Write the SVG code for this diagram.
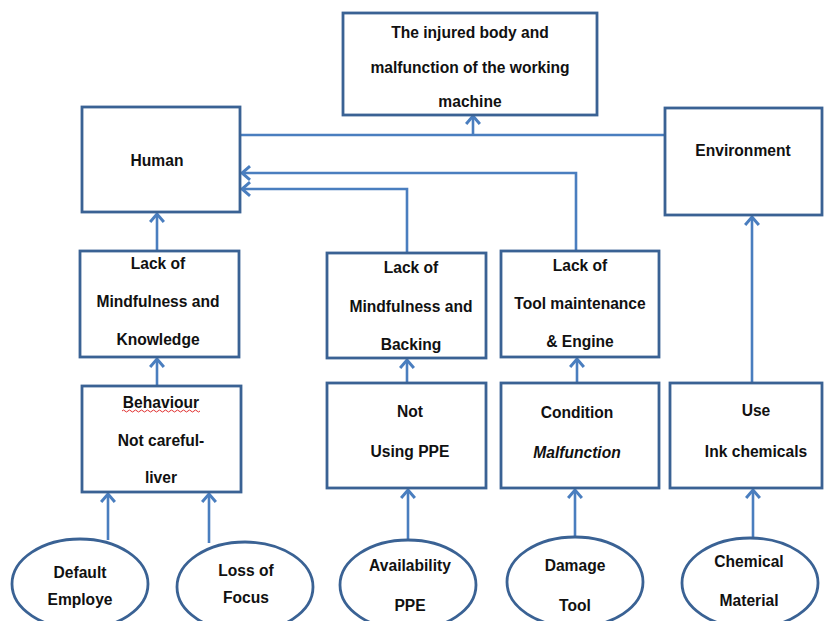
<svg xmlns="http://www.w3.org/2000/svg" width="824" height="621" viewBox="0 0 824 621">
<defs>
<style>
.box{fill:#fff;stroke:#3A6294;stroke-width:2.8}
.t{font-family:"Liberation Sans",Arial,sans-serif;font-size:15.6px;font-weight:bold;fill:#111;text-anchor:middle;dominant-baseline:central}
.c{fill:none;stroke:#4A7EBF;stroke-width:2.6}
</style>
<marker id="ar" markerUnits="userSpaceOnUse" markerWidth="14" markerHeight="16" viewBox="0 0 10 14" refX="8" refY="7" orient="auto" overflow="visible">
<path d="M1,1 L8,7 L1,13" fill="none" stroke="#4A7EBF" stroke-width="2.6"/>
</marker>
</defs>
<rect width="824" height="621" fill="#fff"/>
<g id="connectors">
<path class="c" d="M240,135 H665"/>
<path class="c" d="M473,135 V116" marker-end="url(#ar)"/>
<path class="c" d="M576,251 V173 H242" marker-end="url(#ar)"/>
<path class="c" d="M407,253 V189 H242" marker-end="url(#ar)"/>
<path class="c" d="M157,251 V214" marker-end="url(#ar)"/>
<path class="c" d="M157,386 V359" marker-end="url(#ar)"/>
<path class="c" d="M407,383 V360" marker-end="url(#ar)"/>
<path class="c" d="M577,383 V359" marker-end="url(#ar)"/>
<path class="c" d="M752,383 V217" marker-end="url(#ar)"/>
<path class="c" d="M108,540 V494" marker-end="url(#ar)"/>
<path class="c" d="M209,543 V494" marker-end="url(#ar)"/>
<path class="c" d="M408,540 V490" marker-end="url(#ar)"/>
<path class="c" d="M575,537 V490" marker-end="url(#ar)"/>
<path class="c" d="M753,538 V490" marker-end="url(#ar)"/>
</g>
<g id="top">
<rect class="box" x="343" y="13" width="254" height="102"/>
<text class="t" x="470" y="32">The injured body and</text>
<text class="t" x="470" y="67">malfunction of the working</text>
<text class="t" x="470" y="101">machine</text>
</g>
<g id="human">
<rect class="box" x="82" y="107" width="158" height="105"/>
<text class="t" x="157" y="160">Human</text>
</g>
<g id="environment">
<rect class="box" x="665" y="108" width="157" height="107"/>
<text class="t" x="743" y="150">Environment</text>
</g>
<g id="lack1">
<rect class="box" x="80" y="251" width="159" height="106"/>
<text class="t" x="158" y="263">Lack of</text>
<text class="t" x="158" y="301">Mindfulness and</text>
<text class="t" x="158" y="339">Knowledge</text>
</g>
<g id="lack2">
<rect class="box" x="327" y="253" width="159" height="105"/>
<text class="t" x="411" y="267">Lack of</text>
<text class="t" x="411" y="306">Mindfulness and</text>
<text class="t" x="411" y="344">Backing</text>
</g>
<g id="lack3">
<rect class="box" x="501" y="251" width="158" height="106"/>
<text class="t" x="580" y="265">Lack of</text>
<text class="t" x="580" y="303">Tool maintenance</text>
<text class="t" x="580" y="341">&amp; Engine</text>
</g>
<g id="behaviour">
<rect class="box" x="82" y="386" width="159" height="106"/>
<text class="t" x="161" y="402">Behaviour</text>
<path d="M122,411 q1.5,-2 3,0 t3,0 t3,0 t3,0 t3,0 t3,0 t3,0 t3,0 t3,0 t3,0 t3,0 t3,0 t3,0 t3,0 t3,0 t3,0 t3,0 t3,0 t3,0 t3,0 t3,0 t3,0 t3,0 t3,0 t3,0 t3,0" fill="none" stroke="#E03030" stroke-width="1"/>
<text class="t" x="161" y="440">Not careful-</text>
<text class="t" x="161" y="477">liver</text>
</g>
<g id="notppe">
<rect class="box" x="327" y="383" width="159" height="105"/>
<text class="t" x="410" y="411">Not</text>
<text class="t" x="410" y="451">Using PPE</text>
</g>
<g id="condition">
<rect class="box" x="501" y="383" width="158" height="105"/>
<text class="t" x="577" y="412">Condition</text>
<text class="t" x="577" y="452" font-style="italic">Malfunction</text>
</g>
<g id="use">
<rect class="box" x="670" y="383" width="152" height="105"/>
<text class="t" x="756" y="410">Use</text>
<text class="t" x="756" y="451">Ink chemicals</text>
</g>
<g id="default">
<ellipse class="box" cx="80" cy="584" rx="68" ry="45"/>
<text class="t" x="80" y="572">Default</text>
<text class="t" x="80" y="599">Employe</text>
</g>
<g id="loss">
<ellipse class="box" cx="245" cy="587" rx="68" ry="45"/>
<text class="t" x="246" y="570">Loss of</text>
<text class="t" x="246" y="597">Focus</text>
</g>
<g id="availability">
<ellipse class="box" cx="408" cy="585" rx="68" ry="45"/>
<text class="t" x="410" y="565">Availability</text>
<text class="t" x="410" y="605">PPE</text>
</g>
<g id="damage">
<ellipse class="box" cx="575" cy="582" rx="68" ry="45"/>
<text class="t" x="575" y="565">Damage</text>
<text class="t" x="575" y="605">Tool</text>
</g>
<g id="chemical">
<ellipse class="box" cx="750" cy="583" rx="68" ry="45"/>
<text class="t" x="749" y="561">Chemical</text>
<text class="t" x="749" y="600">Material</text>
</g>
</svg>
